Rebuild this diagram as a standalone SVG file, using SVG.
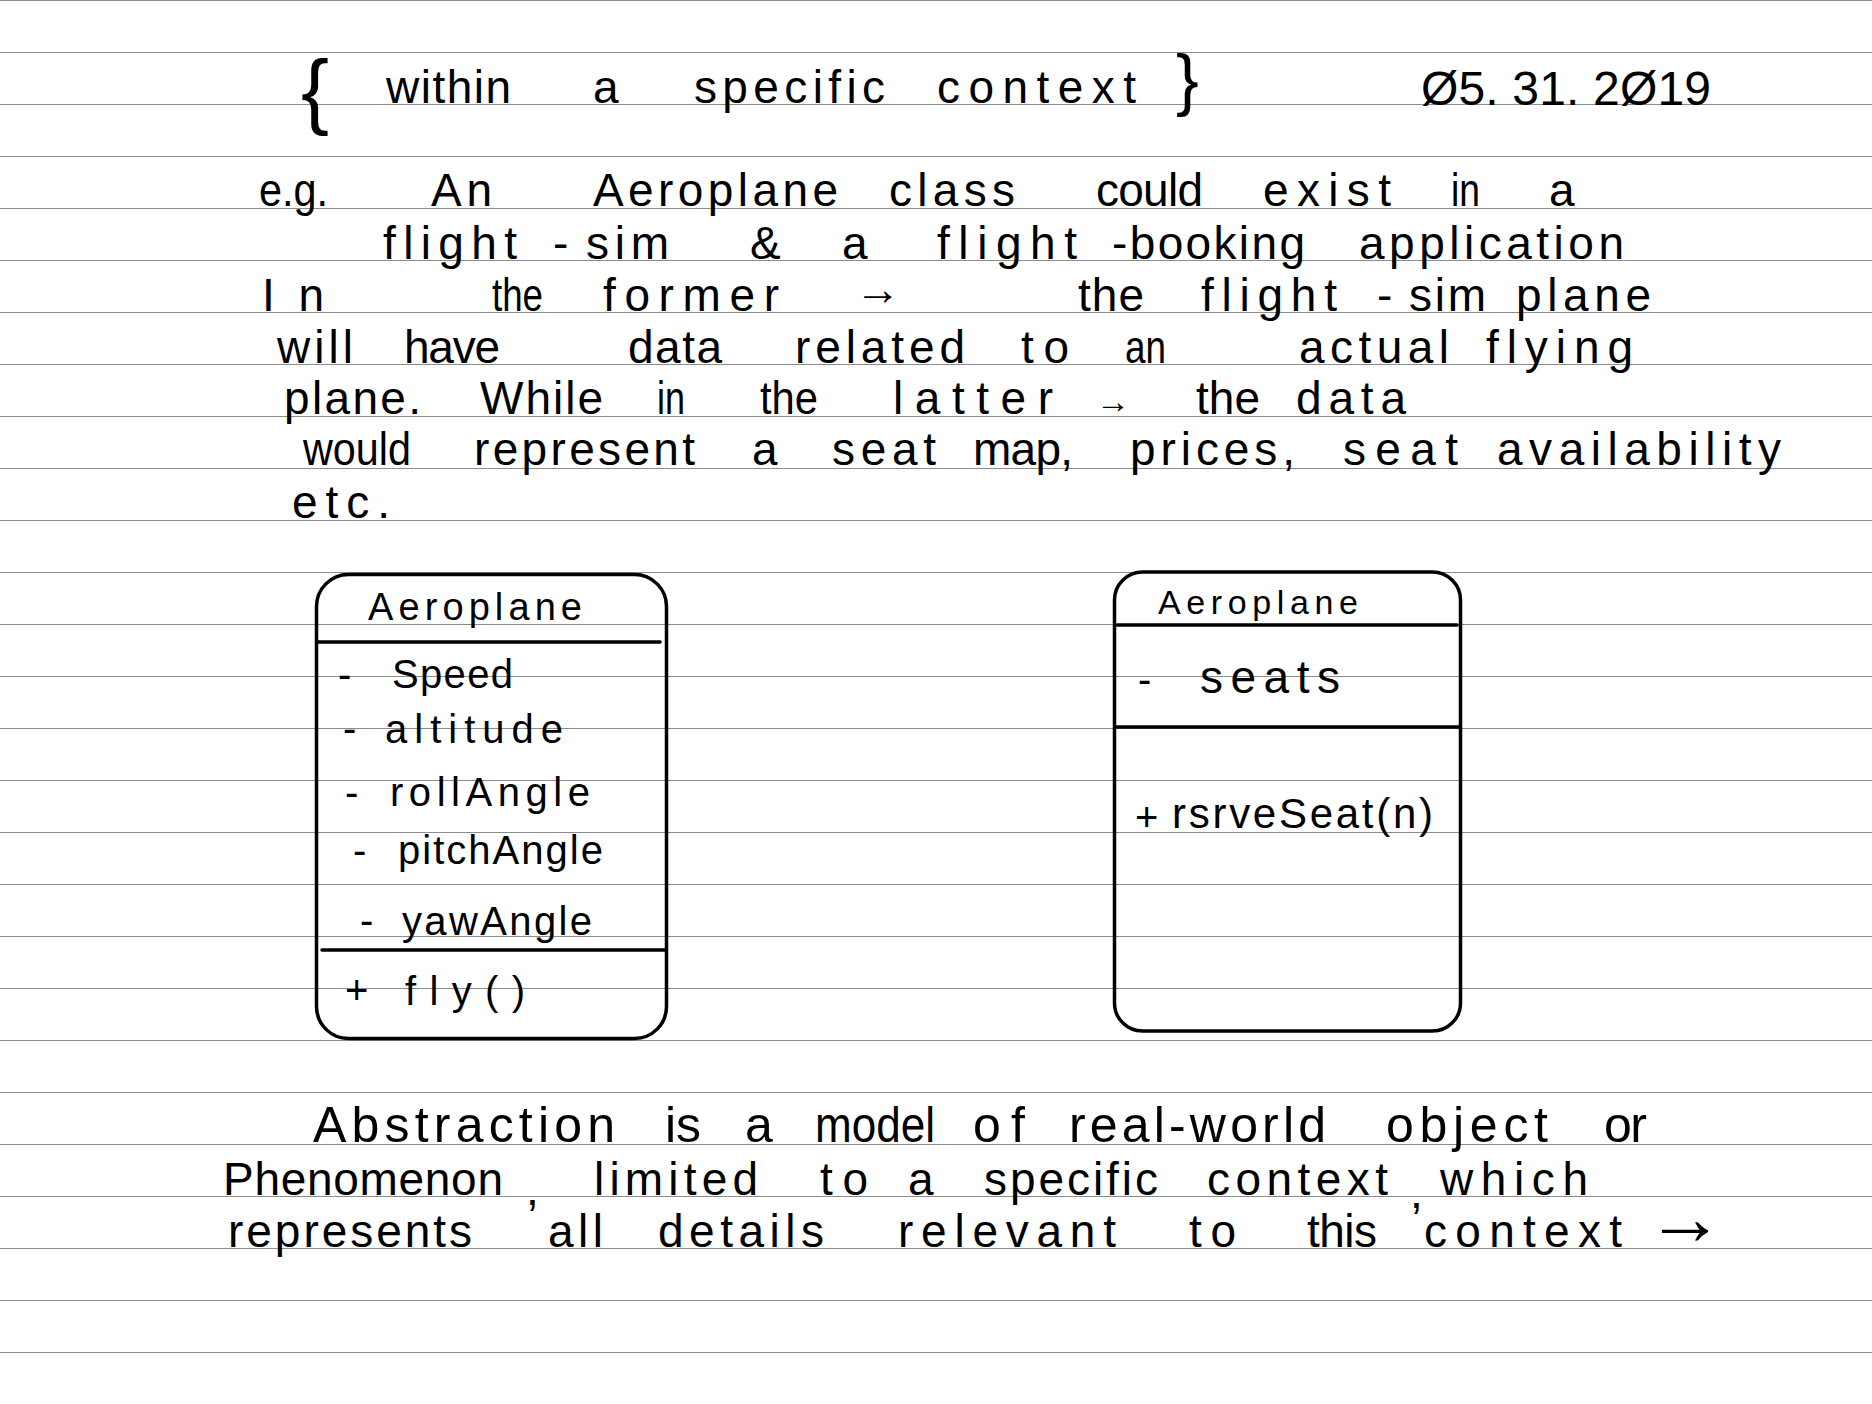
<svg xmlns="http://www.w3.org/2000/svg" width="1872" height="1404" viewBox="0 0 1872 1404">
<style>
.bg{fill:#fff}
.rule{stroke:#8c8c8c;stroke-width:1.2}
.box{fill:none;stroke:#000;stroke-width:3.5;stroke-linecap:round;stroke-linejoin:round}
text{font-family:"Liberation Sans",Arial,sans-serif;fill:#000}
.p{font-size:46px}
.a{font-size:50px}
.h{font-size:38px}
.m{font-size:40px}
</style>
<rect class="bg" x="0" y="0" width="1872" height="1404"/>
<g id="ruling">
<line class="rule" x1="0" y1="0.5" x2="1872" y2="0.5"/>
<line class="rule" x1="0" y1="52.5" x2="1872" y2="52.5"/>
<line class="rule" x1="0" y1="104.5" x2="1872" y2="104.5"/>
<line class="rule" x1="0" y1="156.5" x2="1872" y2="156.5"/>
<line class="rule" x1="0" y1="208.5" x2="1872" y2="208.5"/>
<line class="rule" x1="0" y1="260.5" x2="1872" y2="260.5"/>
<line class="rule" x1="0" y1="312.5" x2="1872" y2="312.5"/>
<line class="rule" x1="0" y1="364.5" x2="1872" y2="364.5"/>
<line class="rule" x1="0" y1="416.5" x2="1872" y2="416.5"/>
<line class="rule" x1="0" y1="468.5" x2="1872" y2="468.5"/>
<line class="rule" x1="0" y1="520.5" x2="1872" y2="520.5"/>
<line class="rule" x1="0" y1="572.5" x2="1872" y2="572.5"/>
<line class="rule" x1="0" y1="624.5" x2="1872" y2="624.5"/>
<line class="rule" x1="0" y1="676.5" x2="1872" y2="676.5"/>
<line class="rule" x1="0" y1="728.5" x2="1872" y2="728.5"/>
<line class="rule" x1="0" y1="780.5" x2="1872" y2="780.5"/>
<line class="rule" x1="0" y1="832.5" x2="1872" y2="832.5"/>
<line class="rule" x1="0" y1="884.5" x2="1872" y2="884.5"/>
<line class="rule" x1="0" y1="936.5" x2="1872" y2="936.5"/>
<line class="rule" x1="0" y1="988.5" x2="1872" y2="988.5"/>
<line class="rule" x1="0" y1="1040.5" x2="1872" y2="1040.5"/>
<line class="rule" x1="0" y1="1092.5" x2="1872" y2="1092.5"/>
<line class="rule" x1="0" y1="1144.5" x2="1872" y2="1144.5"/>
<line class="rule" x1="0" y1="1196.5" x2="1872" y2="1196.5"/>
<line class="rule" x1="0" y1="1248.5" x2="1872" y2="1248.5"/>
<line class="rule" x1="0" y1="1300.5" x2="1872" y2="1300.5"/>
<line class="rule" x1="0" y1="1352.5" x2="1872" y2="1352.5"/>
</g>
<g id="header">
<text x="301" y="119" style="font-size:84px">{</text>
<text class="p" x="386" y="103" textLength="125">within</text>
<text class="p" x="593" y="103">a</text>
<text class="p" x="694" y="103" textLength="191">specific</text>
<text class="p" x="937" y="103" textLength="199">context</text>
<text x="1176" y="103" style="font-size:68px">}</text>
<text x="1421" y="105" style="font-size:48px" textLength="290">Ø5. 31. 2Ø19</text>
</g>
<g id="paragraph" class="p">
<text x="259" y="206" textLength="69" lengthAdjust="spacingAndGlyphs">e.g.</text>
<text x="431" y="206" textLength="61">An</text>
<text x="593" y="206" textLength="245">Aeroplane</text>
<text x="889" y="206" textLength="126">class</text>
<text x="1096" y="206" textLength="107">could</text>
<text x="1263" y="206" textLength="128">exist</text>
<text x="1451" y="206" textLength="29" lengthAdjust="spacingAndGlyphs">in</text>
<text x="1549" y="206">a</text>

<text x="383" y="259" textLength="134">flight</text>
<text x="553" y="259">-</text>
<text x="586" y="259" textLength="83">sim</text>
<text x="750" y="259">&amp;</text>
<text x="842" y="259">a</text>
<text x="937" y="259" textLength="140">flight</text>
<text x="1112" y="259" textLength="193">-booking</text>
<text x="1359" y="259" textLength="265">application</text>

<text x="262" y="311" textLength="62">In</text>
<text x="492" y="311" textLength="51" lengthAdjust="spacingAndGlyphs">the</text>
<text x="603" y="311" textLength="176">former</text>
<text x="855" y="305" style="font-size:46px">→</text>
<text x="1078" y="311" textLength="66">the</text>
<text x="1201" y="311" textLength="136">flight</text>
<text x="1377" y="311">-</text>
<text x="1409" y="311" textLength="77">sim</text>
<text x="1516" y="311" textLength="135">plane</text>

<text x="277" y="363" textLength="76">will</text>
<text x="404" y="363" textLength="96">have</text>
<text x="628" y="363" textLength="94">data</text>
<text x="795" y="363" textLength="170">related</text>
<text x="1021" y="363" textLength="48">to</text>
<text x="1125" y="363" textLength="41" lengthAdjust="spacingAndGlyphs">an</text>
<text x="1299" y="363" textLength="150">actual</text>
<text x="1486" y="363" textLength="147">flying</text>

<text x="284" y="414" textLength="137">plane.</text>
<text x="480" y="414" textLength="123">While</text>
<text x="657" y="414" textLength="28" lengthAdjust="spacingAndGlyphs">in</text>
<text x="760" y="414" textLength="58" lengthAdjust="spacingAndGlyphs">the</text>
<text x="893" y="414" textLength="160">latter</text>
<text x="1096" y="413" style="font-size:34px">→</text>
<text x="1196" y="414" textLength="64">the</text>
<text x="1296" y="414" textLength="110">data</text>

<text x="303" y="465" textLength="108" lengthAdjust="spacingAndGlyphs">would</text>
<text x="474" y="465" textLength="221">represent</text>
<text x="752" y="465">a</text>
<text x="832" y="465" textLength="104">seat</text>
<text x="973" y="465" textLength="100">map,</text>
<text x="1130" y="465" textLength="165">prices,</text>
<text x="1343" y="465" textLength="115">seat</text>
<text x="1497" y="465" textLength="284">availability</text>

<text x="292" y="518" textLength="98">etc.</text>
</g>
<g id="node-aeroplane-flightsim">
<rect class="box" x="316.5" y="574.5" width="350" height="464" rx="32"/>
<line class="box" x1="318" y1="642" x2="660" y2="642"/>
<line class="box" x1="322" y1="950" x2="665" y2="950"/>
<text class="h" x="368" y="620" textLength="214">Aeroplane</text>
<text class="m" x="338" y="688">-</text>
<text class="m" x="392" y="688" textLength="121">Speed</text>
<text class="m" x="343" y="742">-</text>
<text class="m" x="385" y="743" textLength="178">altitude</text>
<text class="m" x="345" y="806">-</text>
<text class="m" x="390" y="806" textLength="200">rollAngle</text>
<text class="m" x="353" y="864">-</text>
<text class="m" x="398" y="864" textLength="205">pitchAngle</text>
<text class="m" x="360" y="934">-</text>
<text class="m" x="402" y="935" textLength="190">yawAngle</text>
<text class="m" x="345" y="1004">+</text>
<text class="m" x="405" y="1005" textLength="120">fly()</text>
</g>
<g id="node-aeroplane-booking">
<rect class="box" x="1114.5" y="572" width="346" height="459" rx="28"/>
<line class="box" x1="1117" y1="625" x2="1457" y2="625"/>
<line class="box" x1="1115" y1="727" x2="1460" y2="727"/>
<text x="1158" y="614" style="font-size:34px" textLength="200">Aeroplane</text>
<text class="m" x="1138" y="693">-</text>
<text x="1200" y="693" style="font-size:46px" textLength="140">seats</text>
<text class="m" x="1135" y="831">+</text>
<text x="1172" y="828" style="font-size:42px" textLength="261">rsrveSeat(n)</text>
</g>
<g id="connectors"></g>
<g id="definition">
<text class="a" x="313" y="1142" textLength="302">Abstraction</text>
<text class="a" x="665" y="1142" textLength="36">is</text>
<text class="a" x="745" y="1142">a</text>
<text class="a" x="815" y="1142" textLength="120" lengthAdjust="spacingAndGlyphs">model</text>
<text class="a" x="973" y="1142" textLength="52">of</text>
<text class="a" x="1069" y="1142" textLength="257">real-world</text>
<text class="a" x="1386" y="1142" textLength="162">object</text>
<text class="a" x="1604" y="1142" textLength="43">or</text>

<text class="p" x="223" y="1195" textLength="280">Phenomenon</text>
<text class="p" x="526" y="1205">,</text>
<text class="p" x="594" y="1195" textLength="164">limited</text>
<text class="p" x="820" y="1195" textLength="48">to</text>
<text class="p" x="908" y="1195">a</text>
<text class="p" x="984" y="1195" textLength="174">specific</text>
<text class="p" x="1207" y="1195" textLength="181">context</text>
<text class="p" x="1410" y="1208">,</text>
<text class="p" x="1440" y="1195" textLength="148">which</text>

<text class="p" x="228" y="1247" textLength="244">represents</text>
<text class="p" x="548" y="1247" textLength="55">all</text>
<text class="p" x="658" y="1247" textLength="166">details</text>
<text class="p" x="898" y="1247" textLength="218">relevant</text>
<text class="p" x="1189" y="1247" textLength="47">to</text>
<text class="p" x="1307" y="1247" textLength="70">this</text>
<text class="p" x="1424" y="1247" textLength="198">context</text>
<text x="1646" y="1244" style="font-size:78px">→</text>
</g>
</svg>
